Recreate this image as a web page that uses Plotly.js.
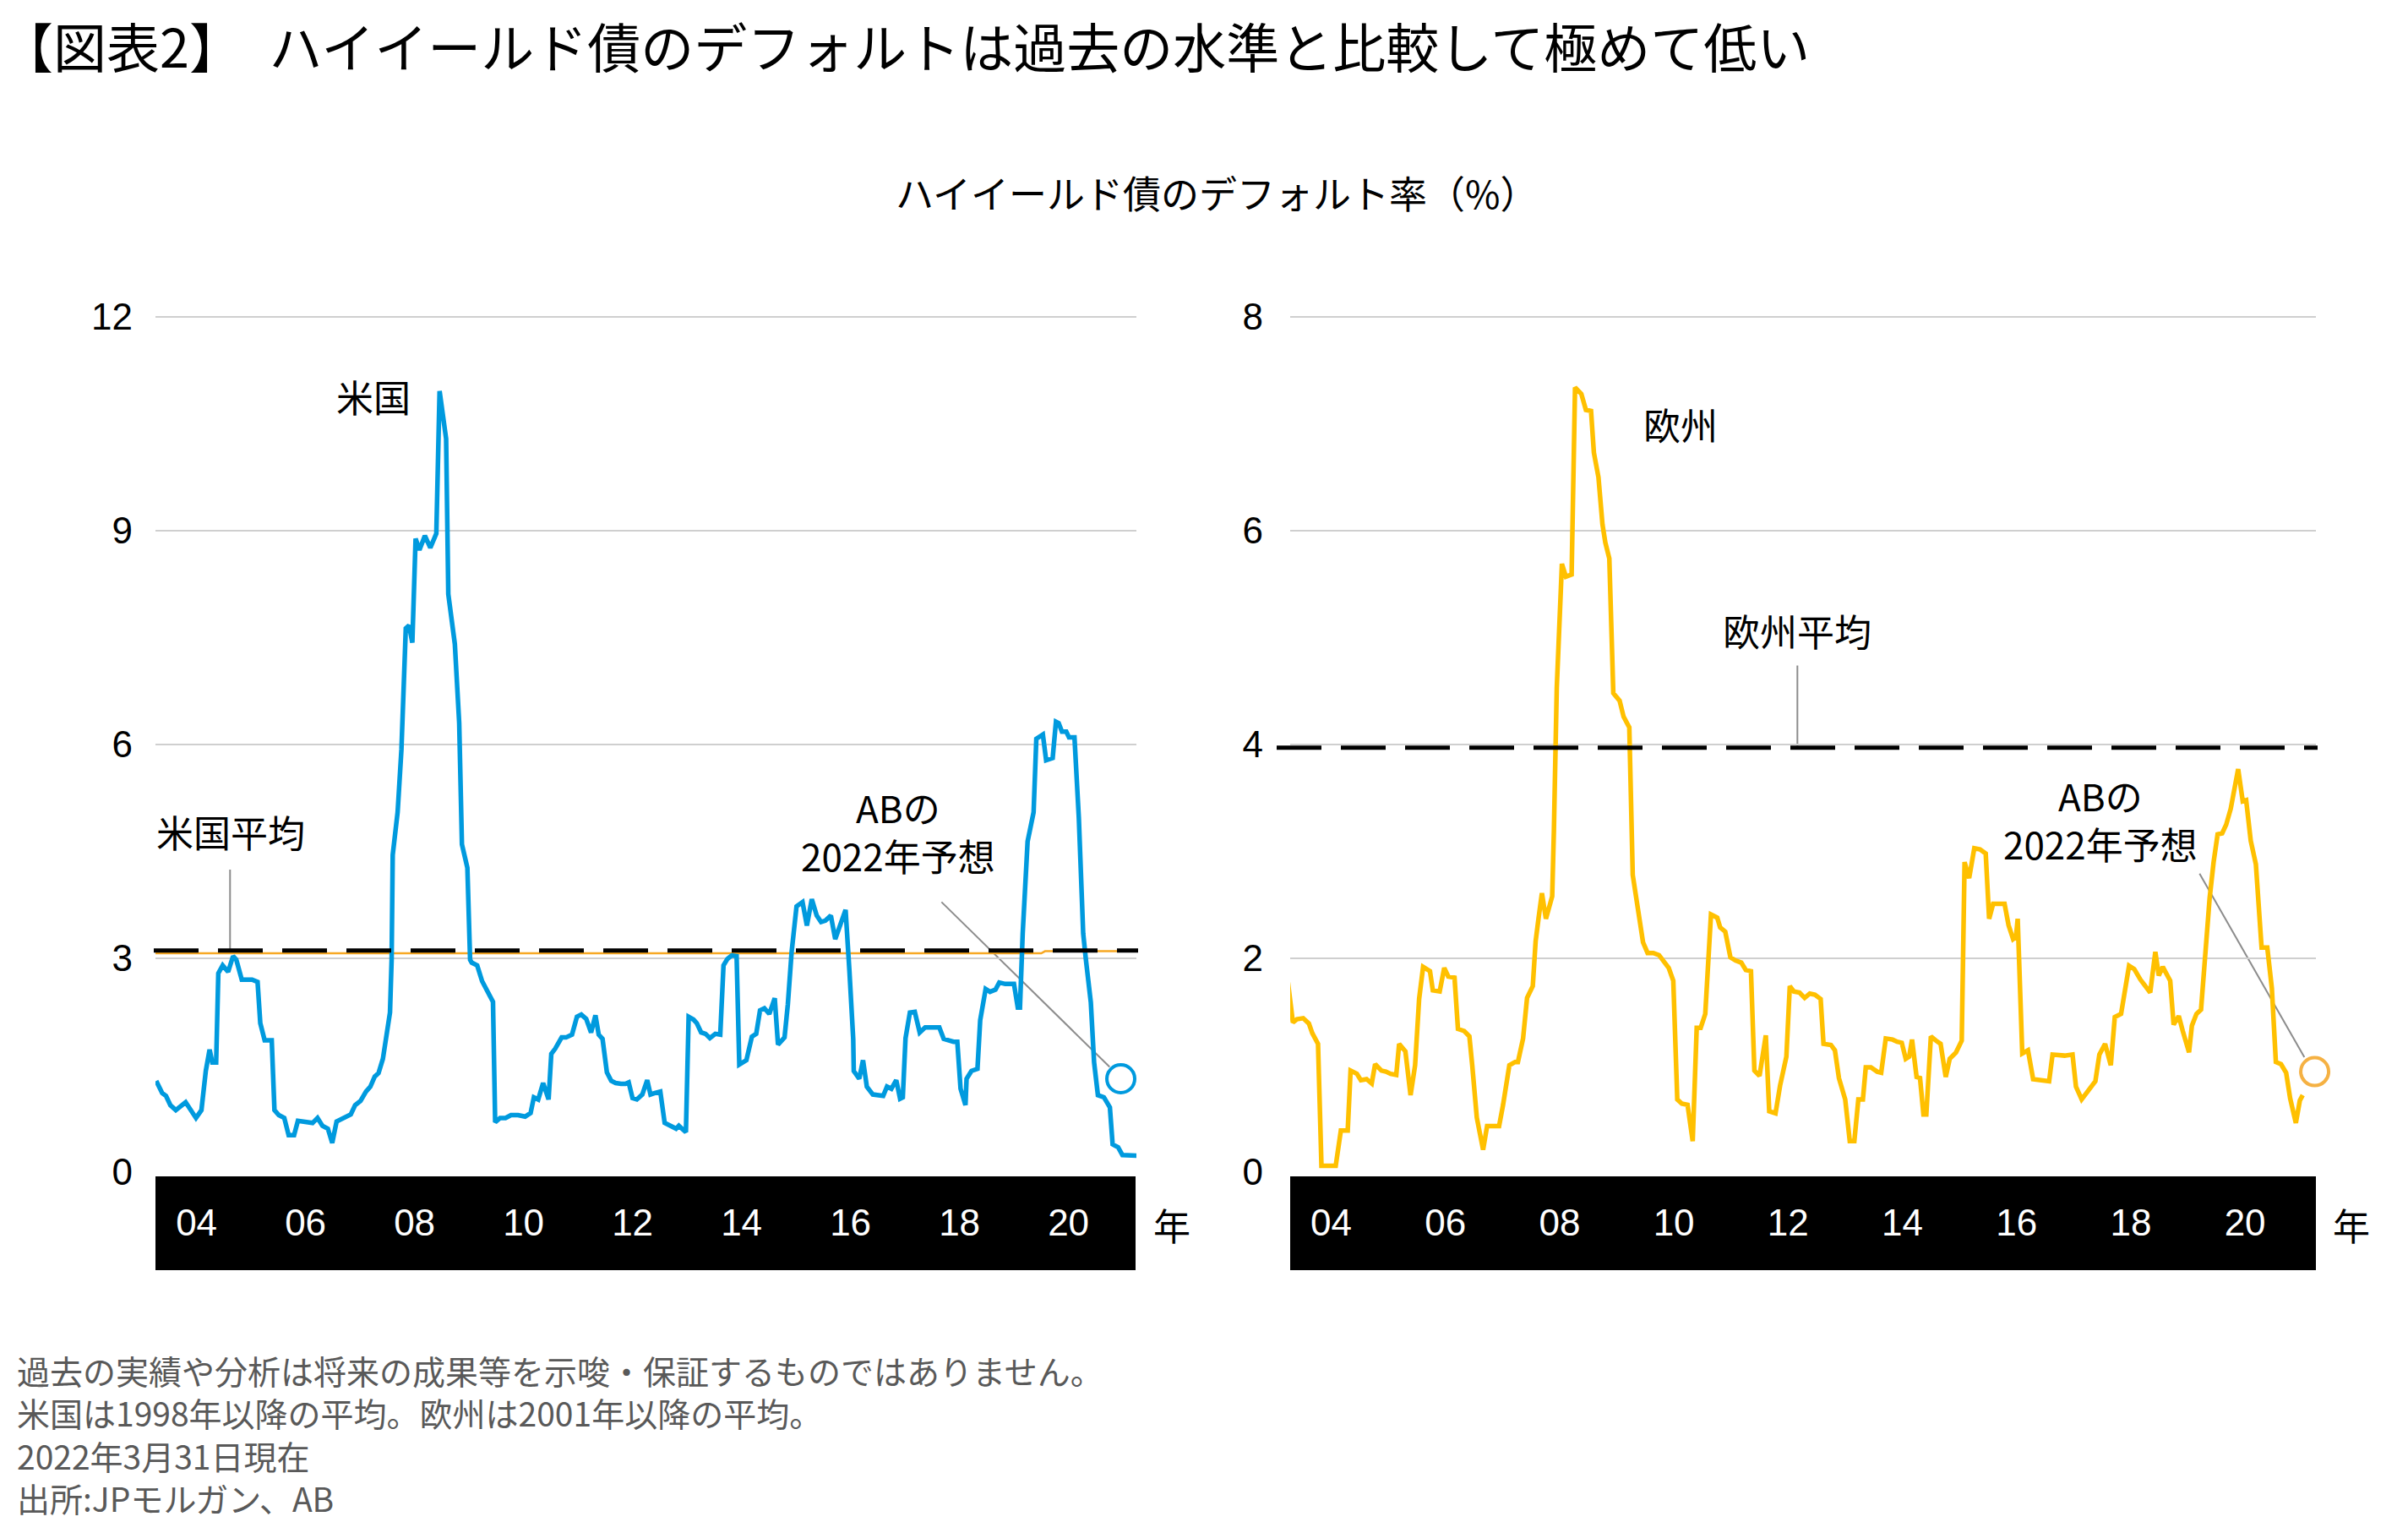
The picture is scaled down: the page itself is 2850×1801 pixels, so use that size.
<!DOCTYPE html>
<html>
<head>
<meta charset="utf-8">
<script src="https://cdn.plot.ly/plotly-3.0.1.min.js"></script>
<style>
html,body{margin:0;padding:0;background:#ffffff;}
#chart{width:2850px;height:1801px;}
</style>
</head>
<body>
<div id="chart"></div>
<script>
// ---------- DATA ----------
// US high-yield default rate (%), x = decimal year
const usYear = [2003.26,2003.37,2003.44,2003.52,2003.62,2003.80,2003.99,2004.09,2004.17,2004.24,
2004.29,2004.36,2004.40,2004.48,2004.58,2004.67,2004.73,2004.83,2005.02,2005.12,
2005.17,2005.25,2005.38,2005.43,2005.51,2005.61,2005.69,2005.79,2005.86,2005.98,
2006.13,2006.22,2006.31,2006.41,2006.49,2006.57,2006.70,2006.83,2006.91,2007.01,
2007.11,2007.19,2007.27,2007.34,2007.42,2007.47,2007.55,2007.58,2007.60,2007.69,
2007.76,2007.84,2007.90,2007.96,2008.02,2008.09,2008.19,2008.29,2008.40,2008.46,
2008.58,2008.62,2008.74,2008.82,2008.87,2008.97,2009.02,2009.05,2009.15,2009.24,
2009.37,
2009.44,2009.48,2009.57,2009.67,2009.77,2009.90,2010.03,2010.13,2010.19,2010.27,
2010.36,2010.46,2010.51,2010.58,2010.70,2010.78,2010.89,2010.98,2011.06,2011.15,
2011.24,2011.32,2011.38,2011.45,2011.53,2011.61,2011.69,2011.79,2011.87,2011.93,
2012.00,2012.08,2012.18,2012.27,2012.33,2012.41,2012.51,2012.59,2012.68,2012.80,
2012.85,2012.91,2012.98,2013.03,2013.12,2013.18,2013.26,2013.34,2013.42,2013.52,
2013.61,2013.67,2013.74,2013.82,2013.91,2013.96,2014.09,2014.19,2014.27,2014.34,
2014.42,2014.51,2014.61,2014.67,2014.79,2014.85,2014.92,2015.01,2015.12,2015.20,
2015.29,
2015.38,2015.46,2015.54,2015.64,2015.72,2015.79,2015.91,2015.98,2016.05,2016.06,
2016.16,2016.23,2016.30,2016.41,2016.60,2016.67,2016.75,2016.84,2016.91,2016.96,
2017.01,2017.09,2017.18,2017.27,2017.37,2017.50,2017.63,2017.71,2017.78,2017.89,
2017.96,2018.02,2018.11,2018.13,2018.22,2018.33,2018.38,2018.48,2018.56,2018.66,
2018.73,2018.84,2019.00,2019.07,2019.11,2019.16,2019.25,2019.36,2019.41,2019.53,
2019.59,2019.71,2019.77,2019.82,2019.88,2019.96,2020.01,2020.11,2020.19,2020.27,
2020.32,2020.41,2020.47,2020.54,2020.65,2020.76,2020.81,2020.91,2020.99,2021.09,
2021.27];
const usRate = [1.28,1.11,1.07,0.94,0.87,0.98,0.76,0.87,1.42,1.72,
1.54,1.54,2.79,2.90,2.81,3.03,2.98,2.70,2.70,2.67,
2.09,1.85,1.85,0.87,0.80,0.76,0.52,0.52,0.72,0.71,
0.69,0.76,0.65,0.61,0.41,0.71,0.76,0.81,0.94,1.00,
1.13,1.20,1.34,1.39,1.59,1.87,2.24,2.98,4.45,5.05,
5.93,7.63,7.67,7.43,8.89,8.73,8.93,8.76,8.96,10.96,
10.29,8.11,7.41,6.30,4.60,4.27,2.98,2.94,2.90,2.68,
2.50,
2.39,0.70,0.76,0.76,0.80,0.80,0.78,0.83,1.05,1.02,
1.25,1.02,1.66,1.73,1.89,1.89,1.93,2.18,2.21,2.15,
1.96,2.20,1.93,1.87,1.40,1.28,1.25,1.24,1.24,1.26,
1.04,1.02,1.09,1.29,1.09,1.11,1.13,0.69,0.65,0.61,
0.65,0.61,0.56,2.18,2.14,2.09,1.96,1.94,1.88,1.94,
1.93,2.90,2.99,3.04,3.03,1.51,1.57,1.90,1.94,2.27,
2.30,2.22,2.44,1.79,1.89,2.35,3.09,3.73,3.79,3.46,
3.83,
3.60,3.51,3.53,3.60,3.27,3.42,3.68,2.83,1.87,1.42,
1.31,1.57,1.20,1.09,1.07,1.20,1.17,1.29,1.03,1.05,
1.88,2.24,2.25,1.96,2.03,2.03,2.03,1.87,1.85,1.83,
1.83,1.17,0.94,1.31,1.42,1.45,2.13,2.57,2.53,2.56,
2.66,2.64,2.64,2.31,2.31,3.35,4.64,5.05,6.08,6.14,
5.78,5.81,6.32,6.30,6.18,6.18,6.10,6.10,4.97,3.35,
2.98,2.38,1.54,1.08,1.05,0.91,0.39,0.35,0.24,0.24,
0.23];

// Europe high-yield default rate (%)
const euYear = [2003.24,2003.33,2003.40,2003.51,2003.61,2003.67,2003.77,2003.83,2004.08,2004.17,
2004.29,2004.34,2004.45,2004.52,2004.62,2004.71,2004.77,2004.88,2004.96,2005.04,
2005.14,2005.19,2005.30,2005.39,2005.47,2005.54,2005.61,2005.73,2005.78,2005.90,
2005.98,2006.05,2006.16,2006.22,2006.33,2006.42,2006.47,2006.55,2006.66,2006.73,
2006.85,2006.94,2007.01,2007.06,2007.12,2007.22,2007.27,2007.36,2007.43,2007.53,
2007.58,2007.63,2007.69,2007.76,2007.87,2007.90,2007.95,2008.04,2008.11,2008.21,
2008.27,2008.38,2008.46,2008.55,2008.60,2008.68,2008.75,2008.80,2008.87,2008.94,
2009.05,2009.12,2009.22,2009.28,2009.37,2009.46,2009.54,2009.64,2009.74,2009.81,
2009.91,2009.99,2010.06,2010.14,2010.24,2010.33,2010.40,2010.47,2010.55,2010.65,
2010.76,2010.81,2010.90,2010.99,2011.08,2011.18,2011.26,2011.35,2011.41,2011.50,
2011.61,2011.67,2011.78,2011.86,2011.97,2012.03,2012.10,2012.20,2012.29,2012.38,
2012.47,2012.57,2012.62,2012.75,2012.82,2012.89,2013.00,2013.08,2013.16,2013.23,
2013.31,2013.36,2013.45,2013.56,2013.63,2013.71,2013.83,2013.91,2013.99,2014.06,
2014.12,2014.17,2014.25,2014.31,2014.37,2014.42,2014.50,2014.59,2014.67,2014.76,
2014.83,
2014.94,2015.04,2015.09,2015.17,2015.26,2015.36,2015.46,2015.52,2015.59,2015.70,
2015.79,2015.86,2015.94,2015.99,2016.02,2016.10,2016.20,2016.29,2016.42,2016.50,
2016.57,2016.63,2016.74,2016.84,2016.98,2017.04,2017.14,2017.28,2017.38,2017.45,
2017.55,2017.65,2017.72,2017.83,2017.90,2017.97,2018.06,2018.17,2018.34,2018.43,
2018.49,2018.56,2018.64,2018.69,2018.75,2018.84,2018.91,2019.02,2019.07,2019.15,
2019.23,2019.30,2019.38,2019.45,2019.52,2019.60,2019.67,2019.75,2019.88,2019.96,
2020.02,2020.10,2020.19,2020.29,2020.39,2020.47,2020.54,2020.63,2020.72,2020.79,
2020.89,2020.96,2021.01];
const euRate = [1.79,1.40,1.43,1.44,1.39,1.30,1.20,0.06,0.06,0.39,
0.39,0.95,0.92,0.86,0.87,0.83,1.01,0.95,0.94,0.92,
0.91,1.20,1.13,0.72,1.00,1.62,1.92,1.88,1.70,1.69,
1.91,1.83,1.82,1.34,1.32,1.27,1.00,0.51,0.21,0.43,
0.43,0.43,0.63,0.83,1.00,1.03,1.03,1.25,1.63,1.74,
2.16,2.37,2.61,2.37,2.58,3.20,4.53,5.69,5.57,5.59,
7.34,7.28,7.13,7.12,6.73,6.50,6.06,5.89,5.74,4.48,
4.41,4.26,4.16,2.78,2.46,2.15,2.05,2.05,2.03,1.98,
1.91,1.79,0.68,0.64,0.63,0.29,1.35,1.35,1.48,2.41,
2.38,2.29,2.25,2.01,1.98,1.96,1.89,1.88,0.95,0.90,
1.28,0.57,0.55,0.81,1.08,1.74,1.69,1.68,1.63,1.67,
1.66,1.62,1.20,1.19,1.14,0.88,0.68,0.29,0.29,0.68,
0.68,0.98,0.98,0.94,0.93,1.25,1.24,1.22,1.21,1.06,
1.08,1.24,0.89,0.88,0.54,0.54,1.27,1.23,1.20,0.89,
1.06,
1.12,1.23,2.90,2.75,3.03,3.02,2.98,2.37,2.51,2.51,
2.51,2.31,2.18,2.20,2.37,1.11,1.14,0.87,0.86,0.85,
0.85,1.10,1.09,1.09,1.10,0.80,0.68,0.79,0.85,1.10,
1.20,1.00,1.45,1.48,1.69,1.93,1.90,1.80,1.68,2.06,
1.84,1.92,1.84,1.79,1.38,1.46,1.32,1.12,1.37,1.48,
1.52,2.04,2.56,2.90,3.16,3.17,3.25,3.40,3.77,3.47,
3.48,3.10,2.88,2.10,2.10,1.72,1.03,1.01,0.93,0.69,
0.46,0.67,0.72];

// long-run averages (%)
const usAverage = 3.11;
const euAverage = 3.97;
// thin orange running-average line under the US dashed average
const usRunAvgYear = [2003.22, 2019.50, 2019.57, 2021.28];
const usRunAvgRate = [3.07, 3.07, 3.10, 3.10];

// AB 2022 forecasts (open circles)
const usForecastYear = [2020.96];
const usForecast = [1.31];
const euForecastYear = [2021.22];
const euForecast = [0.94];

// ticks
const tickYears = [2004, 2006, 2008, 2010, 2012, 2014, 2016, 2018, 2020];
const tickLabels = ['04', '06', '08', '10', '12', '14', '16', '18', '20'];
const usTicks = [0, 3, 6, 9, 12];
const euTicks = [0, 2, 4, 6, 8];

// texts
const mainTitle = '【図表2】　ハイイールド債のデフォルトは過去の水準と比較して極めて低い';
const subTitle = 'ハイイールド債のデフォルト率（%）';
const notes = [
  '過去の実績や分析は将来の成果等を示唆・保証するものではありません。',
  '米国は1998年以降の平均。欧州は2001年以降の平均。',
  '2022年3月31日現在',
  '出所:JPモルガン、AB'
];

// ---------- STYLE / LAYOUT ----------
const W = 2850, H = 1801;
const px = v => v / W;
const py = v => 1 - v / H;
const CJK = '"Noto Sans CJK JP", "Noto Sans", sans-serif';
const NUM = '"Liberation Sans", Arial, "Noto Sans CJK JP", sans-serif';
const BLUE = '#009ADE';
const GOLD = '#FFC000';
const GRID = '#CFCFCF';
const LEAD = '#8C8C8C';

const traces = [
  {x: usRunAvgYear, y: usRunAvgRate, xaxis: 'x', yaxis: 'y', mode: 'lines',
   line: {color: '#F7A823', width: 2.5}, hoverinfo: 'skip'},
  {x: usYear, y: usRate, xaxis: 'x', yaxis: 'y', mode: 'lines',
   line: {color: BLUE, width: 5.5}},
  {x: usForecastYear, y: usForecast, xaxis: 'x', yaxis: 'y', mode: 'markers', cliponaxis: false,
   marker: {symbol: 'circle', size: 33, color: '#ffffff', line: {color: BLUE, width: 4}}},
  {x: euYear, y: euRate, xaxis: 'x2', yaxis: 'y2', mode: 'lines',
   line: {color: GOLD, width: 5.5}},
  {x: euForecastYear, y: euForecast, xaxis: 'x2', yaxis: 'y2', mode: 'markers', cliponaxis: false,
   marker: {symbol: 'circle', size: 33, color: '#ffffff', line: {color: '#F5B143', width: 4}}}
];

const xCommon = {
  tickvals: tickYears, ticktext: tickLabels, ticks: '', showgrid: false, zeroline: false,
  showline: false, tickfont: {family: NUM, size: 44, color: '#ffffff'}, ticklabelstandoff: 30,
  fixedrange: true
};
const yCommon = {
  ticks: '', showline: false, zeroline: false, gridcolor: GRID, gridwidth: 2,
  tickfont: {family: NUM, size: 44, color: '#000000'}, fixedrange: true
};

// plot tops a few px above the top gridline so that gridline is drawn
const TOP = 370;
const usTop = 12 + (375 - TOP) / ((1387 - 375) / 12);
const euTop = 8 + (375 - TOP) / ((1387 - 375) / 8);

function label(text, x, y, size, color) {
  return {text: text, xref: 'paper', yref: 'paper', x: px(x), y: py(y), xanchor: 'center', yanchor: 'middle',
          showarrow: false, font: {family: CJK, size: size || 44, color: color || '#000000'}};
}

const layout = {
  width: W, height: H,
  margin: {l: 0, r: 0, t: 0, b: 0},
  paper_bgcolor: '#ffffff', plot_bgcolor: 'rgba(0,0,0,0)',
  showlegend: false,
  title: {text: mainTitle, x: 0, xref: 'paper', xanchor: 'left', y: py(58), yref: 'paper', yanchor: 'middle',
          font: {family: CJK, size: 63, color: '#000000'}},
  xaxis: Object.assign({}, xCommon, {domain: [px(184), px(1345)], range: [2003.2465, 2021.2465], anchor: 'y'}),
  yaxis: Object.assign({}, yCommon, {domain: [py(1387), py(TOP)], range: [0, usTop], tickvals: usTicks, anchor: 'x', ticklabelstandoff: 26}),
  xaxis2: Object.assign({}, xCommon, {domain: [px(1527), px(2741)], range: [2003.2825, 2021.2411], anchor: 'y2'}),
  yaxis2: Object.assign({}, yCommon, {domain: [py(1387), py(TOP)], range: [0, euTop], tickvals: euTicks, anchor: 'x2', ticklabelstandoff: 31}),
  shapes: [
    // black year bands
    {type: 'rect', xref: 'paper', yref: 'paper', x0: px(184), x1: px(1344), y0: py(1503), y1: py(1392),
     fillcolor: '#000000', line: {width: 0}, layer: 'below'},
    {type: 'rect', xref: 'paper', yref: 'paper', x0: px(1527), x1: px(2741), y0: py(1503), y1: py(1392),
     fillcolor: '#000000', line: {width: 0}, layer: 'below'},
    // leader lines
    {type: 'line', xref: 'x', yref: 'y', x0: 2004.615, x1: 2004.615, y0: 4.245, y1: usAverage,
     line: {color: LEAD, width: 2}, layer: 'below'},
    {type: 'line', xref: 'x', yref: 'y', x0: 2017.67, y0: 3.79, x1: 2020.755, y1: 1.476,
     line: {color: LEAD, width: 2}, layer: 'below'},
    {type: 'line', xref: 'x2', yref: 'y2', x0: 2012.163, x1: 2012.163, y0: 4.739, y1: euAverage,
     line: {color: LEAD, width: 2}, layer: 'below'},
    {type: 'line', xref: 'x2', yref: 'y2', x0: 2019.204, y0: 2.793, x1: 2021.039, y1: 1.075,
     line: {color: LEAD, width: 2}, layer: 'below'},
    // dashed averages
    {type: 'line', xref: 'paper', yref: 'y', x0: px(182), x1: px(1347), y0: usAverage, y1: usAverage,
     line: {color: '#000000', width: 5, dash: '53px,23px'}, layer: 'above'},
    {type: 'line', xref: 'paper', yref: 'y2', x0: px(1511), x1: px(2743), y0: euAverage, y1: euAverage,
     line: {color: '#000000', width: 5, dash: '53px,23px'}, layer: 'above'}
  ],
  annotations: [
    label(subTitle, 1440, 227, 45),
    label('米国', 442, 469),
    label('米国平均', 273, 984),
    label('ABの<br>2022年予想', 1063, 984),
    label('欧州', 1989, 502),
    label('欧州平均', 2127, 746),
    label('ABの<br>2022年予想', 2486, 970),
    label('年', 1387, 1449),
    label('年', 2783, 1449)
  ].concat(notes.map((t, i) => ({
    text: t, xref: 'paper', yref: 'paper', x: px(18), y: py([1621, 1671, 1722, 1772][i]),
    xanchor: 'left', yanchor: 'middle', showarrow: false,
    font: {family: CJK, size: 39, color: '#595959'}
  })))
};

Plotly.newPlot('chart', traces, layout, {staticPlot: true, displayModeBar: false, responsive: false});
</script>
</body>
</html>
